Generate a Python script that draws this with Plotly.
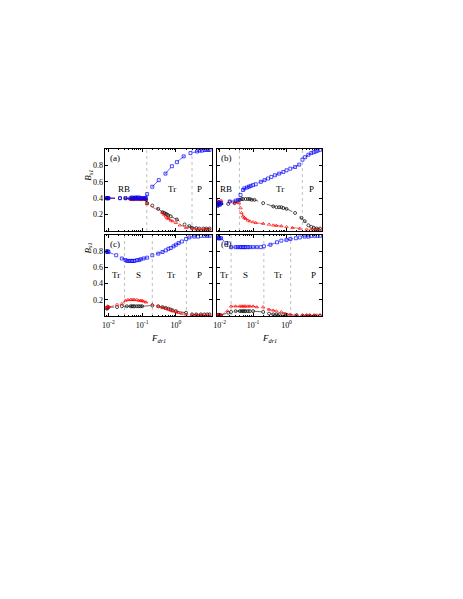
import math

import plotly.graph_objects as go

# ---- panel (a) ----
a_blue_x = [0.0085, 0.009, 0.0095, 0.01, 0.022, 0.032, 0.045, 0.05, 0.055, 0.06, 0.065, 0.07, 0.075, 0.08, 0.09, 0.1, 0.11, 0.12, 0.13,
            0.14, 0.2, 0.31, 0.49, 0.76, 1.07, 1.7, 2.7, 4.2, 5.0, 6.0, 7.0, 8.0, 9.0, 10.0]
a_blue_y = [0.40, 0.40, 0.40, 0.40, 0.40, 0.40, 0.40, 0.41, 0.40, 0.40, 0.41, 0.40, 0.40, 0.41, 0.40, 0.40, 0.40, 0.40, 0.40,
            0.45, 0.54, 0.62, 0.70, 0.79, 0.84, 0.91, 0.95, 0.97, 0.98, 0.98, 0.99, 0.99, 0.99, 0.99]
a_black_x = [0.0085, 0.009, 0.0095, 0.01, 0.022, 0.032, 0.045, 0.05, 0.055, 0.06, 0.07, 0.08, 0.09, 0.1, 0.12, 0.13,
             0.14, 0.2, 0.3, 0.4, 0.45, 0.5, 0.55, 0.6, 0.7, 1.07, 1.8, 2.5, 3.0, 4.0, 5.0, 6.5, 8.0, 10.0]
a_black_y = [0.40, 0.40, 0.40, 0.40, 0.40, 0.40, 0.39, 0.39, 0.39, 0.39, 0.39, 0.39, 0.39, 0.39, 0.39, 0.38,
             0.34, 0.31, 0.27, 0.23, 0.22, 0.21, 0.20, 0.19, 0.18, 0.14, 0.08, 0.06, 0.04, 0.035, 0.03, 0.03, 0.03, 0.03]
a_red_x = [0.0085, 0.009, 0.0095, 0.01, 0.045, 0.05, 0.055, 0.06, 0.065, 0.07, 0.08, 0.09, 0.1, 0.11, 0.12, 0.13,
           0.14, 0.4, 0.45, 0.5, 0.55, 0.6, 0.7, 0.8, 1.0, 1.3, 2.0, 3.0, 4.0, 5.0, 6.5, 8.0, 10.0]
a_red_y = [0.40, 0.40, 0.40, 0.40, 0.39, 0.40, 0.38, 0.40, 0.39, 0.41, 0.39, 0.40, 0.38, 0.39, 0.40, 0.39,
           0.33, 0.22, 0.20, 0.18, 0.16, 0.15, 0.13, 0.12, 0.10, 0.07, 0.04, 0.03, 0.02, 0.02, 0.02, 0.02, 0.02]

# ---- panel (b) ----
b_blue_x = [0.0085, 0.009, 0.0095, 0.01, 0.011, 0.02, 0.03, 0.036, 0.042, 0.05, 0.055, 0.065, 0.075, 0.085, 0.1, 0.12,
            0.17, 0.22, 0.28, 0.35, 0.45, 0.6, 0.8, 1.0, 1.3, 1.8, 2.4, 3.0, 3.6, 4.5, 5.5, 6.5, 7.5, 8.5, 10.0]
b_blue_y = [0.31, 0.33, 0.35, 0.32, 0.34, 0.36, 0.37, 0.38, 0.44, 0.50, 0.52, 0.53, 0.54, 0.55, 0.56, 0.57,
            0.60, 0.62, 0.64, 0.66, 0.68, 0.70, 0.72, 0.74, 0.76, 0.78, 0.81, 0.87, 0.90, 0.93, 0.95, 0.96, 0.97, 0.98, 0.99]
b_black_x = [0.0085, 0.009, 0.01, 0.011, 0.018, 0.028, 0.04, 0.045, 0.05, 0.06, 0.07, 0.08, 0.09, 0.11,
             0.2, 0.4, 0.5, 0.6, 0.7, 0.8, 1.0, 1.8, 2.8, 3.5, 4.5, 5.5, 6.5, 8.0, 10.0]
b_black_y = [0.33, 0.31, 0.34, 0.33, 0.33, 0.34, 0.38, 0.39, 0.39, 0.39, 0.39, 0.39, 0.38, 0.38,
             0.34, 0.30, 0.29, 0.29, 0.29, 0.28, 0.27, 0.22, 0.16, 0.12, 0.07, 0.05, 0.04, 0.03, 0.03]
b_red_x = [0.0085, 0.009, 0.0095, 0.01, 0.011, 0.02, 0.03, 0.038, 0.042, 0.045, 0.05, 0.055, 0.06, 0.07, 0.08, 0.1, 0.12,
           0.2, 0.3, 0.4, 0.5, 0.7, 1.0, 1.5, 2.5, 4.0, 6.0, 8.0, 10.0]
b_red_y = [0.37, 0.34, 0.36, 0.35, 0.37, 0.36, 0.35, 0.34, 0.28, 0.22, 0.18, 0.16, 0.15, 0.13, 0.12, 0.11, 0.10,
           0.09, 0.08, 0.07, 0.065, 0.06, 0.05, 0.04, 0.03, 0.02, 0.02, 0.015, 0.01]

# ---- panel (c) ----
c_blue_x = [0.0085, 0.009, 0.0095, 0.01, 0.017, 0.025, 0.032, 0.036, 0.04, 0.045, 0.05, 0.055, 0.06, 0.07, 0.08, 0.09, 0.11, 0.14,
            0.2, 0.3, 0.4, 0.5, 0.6, 0.7, 0.85, 1.0, 1.2, 1.5, 2.0, 2.5, 3.5, 4.5, 5.5, 7.0, 8.5, 10.0]
c_blue_y = [0.80, 0.79, 0.80, 0.79, 0.75, 0.71, 0.69, 0.68, 0.68, 0.68, 0.68, 0.68, 0.68, 0.69, 0.69, 0.70, 0.71, 0.72,
            0.75, 0.77, 0.79, 0.81, 0.83, 0.84, 0.86, 0.88, 0.90, 0.92, 0.95, 0.97, 0.98, 0.98, 0.99, 0.99, 0.99, 0.99]
c_red_x = [0.0085, 0.009, 0.0095, 0.01, 0.018, 0.025, 0.032, 0.038, 0.045, 0.05, 0.055, 0.06, 0.07, 0.08, 0.09, 0.1, 0.11, 0.13,
           0.2, 0.3, 0.4, 0.5, 0.6, 0.7, 0.8, 1.0, 1.2, 1.5, 2.0, 3.0, 4.0, 5.0, 6.0, 7.0, 8.5, 10.0]
c_red_y = [0.10, 0.11, 0.12, 0.11, 0.14, 0.15, 0.19, 0.20, 0.20, 0.20, 0.20, 0.20, 0.20, 0.19, 0.19, 0.19, 0.18, 0.17,
           0.14, 0.12, 0.10, 0.09, 0.08, 0.07, 0.06, 0.05, 0.04, 0.03, 0.02, 0.015, 0.01, 0.01, 0.01, 0.01, 0.01, 0.01]
c_black_x = [0.0085, 0.009, 0.0095, 0.01, 0.018, 0.025, 0.035, 0.045, 0.05, 0.055, 0.06, 0.07, 0.08, 0.09, 0.1,
             0.2, 0.3, 0.4, 0.5, 0.6, 0.7, 0.8, 1.0, 2.0, 3.0, 4.0, 5.5, 7.0, 8.5, 10.0]
c_black_y = [0.10, 0.09, 0.10, 0.11, 0.11, 0.12, 0.12, 0.12, 0.12, 0.12, 0.12, 0.12, 0.12, 0.12, 0.12,
             0.13, 0.12, 0.11, 0.10, 0.09, 0.08, 0.07, 0.06, 0.04, 0.02, 0.02, 0.02, 0.02, 0.02, 0.02]

# ---- panel (d) ----
d_blue_x = [0.0085, 0.009, 0.0095, 0.01, 0.011, 0.016, 0.022, 0.03, 0.035, 0.04, 0.045, 0.05, 0.055, 0.06, 0.07, 0.08, 0.1, 0.13,
            0.17, 0.21, 0.33, 0.52, 0.7, 1.0, 1.3, 1.9, 2.5, 3.5, 4.5, 5.5, 7.0, 8.5, 10.0]
d_blue_y = [0.96, 0.97, 0.96, 0.96, 0.96, 0.90, 0.85, 0.85, 0.85, 0.85, 0.85, 0.85, 0.85, 0.85, 0.85, 0.85, 0.85, 0.85,
            0.85, 0.86, 0.88, 0.91, 0.93, 0.94, 0.95, 0.96, 0.97, 0.98, 0.98, 0.99, 0.99, 0.99, 0.99]
d_red_x = [0.0085, 0.009, 0.0095, 0.01, 0.011, 0.017, 0.022, 0.03, 0.04, 0.045, 0.05, 0.055, 0.06, 0.07, 0.08, 0.1, 0.13,
           0.2, 0.3, 0.4, 0.5, 0.7, 0.9, 1.3, 2.0, 3.0, 4.0, 5.0, 6.5, 8.0, 10.0]
d_red_y = [0.01, 0.01, 0.02, 0.01, 0.01, 0.06, 0.12, 0.12, 0.12, 0.12, 0.12, 0.12, 0.12, 0.12, 0.12, 0.12, 0.11,
           0.11, 0.08, 0.07, 0.06, 0.05, 0.03, 0.02, 0.01, 0.01, 0.01, 0.01, 0.01, 0.01, 0.01]
d_black_x = [0.0085, 0.009, 0.0095, 0.01, 0.011, 0.018, 0.022, 0.03, 0.04, 0.045, 0.05, 0.055, 0.06, 0.07, 0.08, 0.1,
             0.2, 0.3, 0.4, 0.5, 0.6, 0.8, 1.0, 2.0, 3.0, 4.0, 5.0, 7.0, 10.0]
d_black_y = [0.01, 0.01, 0.01, 0.01, 0.01, 0.04, 0.05, 0.06, 0.06, 0.06, 0.06, 0.06, 0.06, 0.06, 0.06, 0.06,
             0.05, 0.03, 0.02, 0.02, 0.02, 0.02, 0.015, 0.01, 0.005, 0.005, 0.005, 0.005, 0.005]

# regime boundaries and labels
a_bounds = [0.137, 3.0]
b_bounds = [0.039, 2.97]
c_bounds = [0.030, 0.20, 2.05]
d_bounds = [0.022, 0.21, 1.33]
a_regions = [("RB", 0.028), ("Tr", 0.75), ("P", 5.0)]
b_regions = [("RB", 0.016), ("Tr", 0.65), ("P", 5.5)]
c_regions = [("Tr", 0.0165), ("S", 0.077), ("Tr", 0.70), ("P", 5.0)]
d_regions = [("Tr", 0.0135), ("S", 0.058), ("Tr", 0.54), ("P", 6.3)]

y_ticks = [0.2, 0.4, 0.6, 0.8]
x_ticks = [0.01, 0.1, 1]
x_ticktext = ["10<sup>-2</sup>", "10<sup>-1</sup>", "10<sup>0</sup>"]
x_minor = [k * 10.0 ** e for e in (-3, -2, -1, 0) for k in range(2, 10)]

W, H = 463, 599
FONT = "Liberation Serif"

# pixel boxes of the four panels: left, right, top, bottom
boxes = {
    "a": (95, 202, 141, 223),
    "b": (207, 313, 141, 223),
    "c": (95, 202, 227, 308),
    "d": (207, 313, 227, 308),
}
ylabel_level = {"a": 0.68, "c": 0.84}

panels = [
    ("a", a_blue_x, a_blue_y, a_black_x, a_black_y, a_red_x, a_red_y, a_bounds, a_regions),
    ("b", b_blue_x, b_blue_y, b_black_x, b_black_y, b_red_x, b_red_y, b_bounds, b_regions),
    ("c", c_blue_x, c_blue_y, c_black_x, c_black_y, c_red_x, c_red_y, c_bounds, c_regions),
    ("d", d_blue_x, d_blue_y, d_black_x, d_black_y, d_red_x, d_red_y, d_bounds, d_regions),
]

fig = go.Figure()
layout = dict(
    width=W, height=H,
    margin=dict(l=0, r=0, t=0, b=0),
    paper_bgcolor="white", plot_bgcolor="white",
    showlegend=False,
    font=dict(family=FONT, size=8, color="black"),
    annotations=[],
)

for i, (name, bx, by, kx, ky, rx, ry, bounds, regions) in enumerate(panels):
    n = "" if i == 0 else str(i + 1)
    xa, ya = "x" + n, "y" + n
    l, r, t, b = boxes[name]
    bottom_row = name in ("c", "d")
    left_col = name in ("a", "c")

    for bnd in bounds:
        fig.add_trace(go.Scatter(x=[bnd, bnd], y=[0, 1], mode="lines", xaxis=xa, yaxis=ya,
                                 line=dict(color="#b0b0b0", width=0.8, dash="dot"), hoverinfo="skip"))

    for xs, ys, color, symbol in [(kx, ky, "black", "circle-open"),
                                  (rx, ry, "red", "triangle-up-open"),
                                  (bx, by, "blue", "square-open")]:
        fig.add_trace(go.Scatter(x=xs, y=ys, mode="lines+markers", xaxis=xa, yaxis=ya,
                                 line=dict(color=color, width=0.6, dash="dash"),
                                 marker=dict(symbol=symbol, size=3, color=color, line=dict(width=0.7, color=color))))

    layout["xaxis" + n] = dict(
        type="log", range=[-2.09, 1.06], domain=[l / W, r / W], anchor=ya,
        tickmode="array", tickvals=x_ticks, ticktext=x_ticktext, showticklabels=bottom_row,
        ticks="inside", ticklen=3, tickwidth=0.6, tickcolor="black",
        minor=dict(tickmode="array", tickvals=x_minor, ticks="inside", ticklen=1.5, tickwidth=0.5, tickcolor="black"),
        showline=True, linecolor="black", linewidth=0.8, mirror="ticks",
        showgrid=False, zeroline=False, tickfont=dict(family=FONT, size=8), ticklabelstandoff=1,
    )
    layout["yaxis" + n] = dict(
        range=[0, 1], domain=[1 - b / H, 1 - t / H], anchor=xa,
        tickmode="array", tickvals=y_ticks, ticktext=[f"{v:.1f}" for v in y_ticks], showticklabels=left_col,
        ticks="inside", ticklen=3, tickwidth=0.6, tickcolor="black",
        showline=True, linecolor="black", linewidth=0.8, mirror="ticks",
        showgrid=False, zeroline=False, tickfont=dict(family=FONT, size=8),
    )

    layout["annotations"].append(dict(text=f"({name})", xref=xa + " domain", yref=ya + " domain",
                                      x=0.02, y=0.98, xanchor="left", yanchor="top", showarrow=False,
                                      font=dict(family=FONT, size=9)))
    for label, pos in regions:
        layout["annotations"].append(dict(text=label, xref=xa, yref=ya, x=math.log10(pos), y=0.51,
                                          showarrow=False, font=dict(family=FONT, size=9)))
    if left_col:
        layout["annotations"].append(dict(text="<i>B</i><sub><i>s1</i></sub>", xref="paper", yref=ya,
                                          x=78 / W, y=ylabel_level[name], xanchor="center", showarrow=False,
                                          textangle=-90, font=dict(family=FONT, size=9)))
    if bottom_row:
        layout["annotations"].append(dict(text="<i>F</i><sub><i>dr1</i></sub>", xref=xa + " domain", yref="paper",
                                          x=0.5, y=1 - 330 / H, yanchor="middle", showarrow=False,
                                          font=dict(family=FONT, size=9)))

fig.update_layout(**layout)
fig.write_html("out.html")
